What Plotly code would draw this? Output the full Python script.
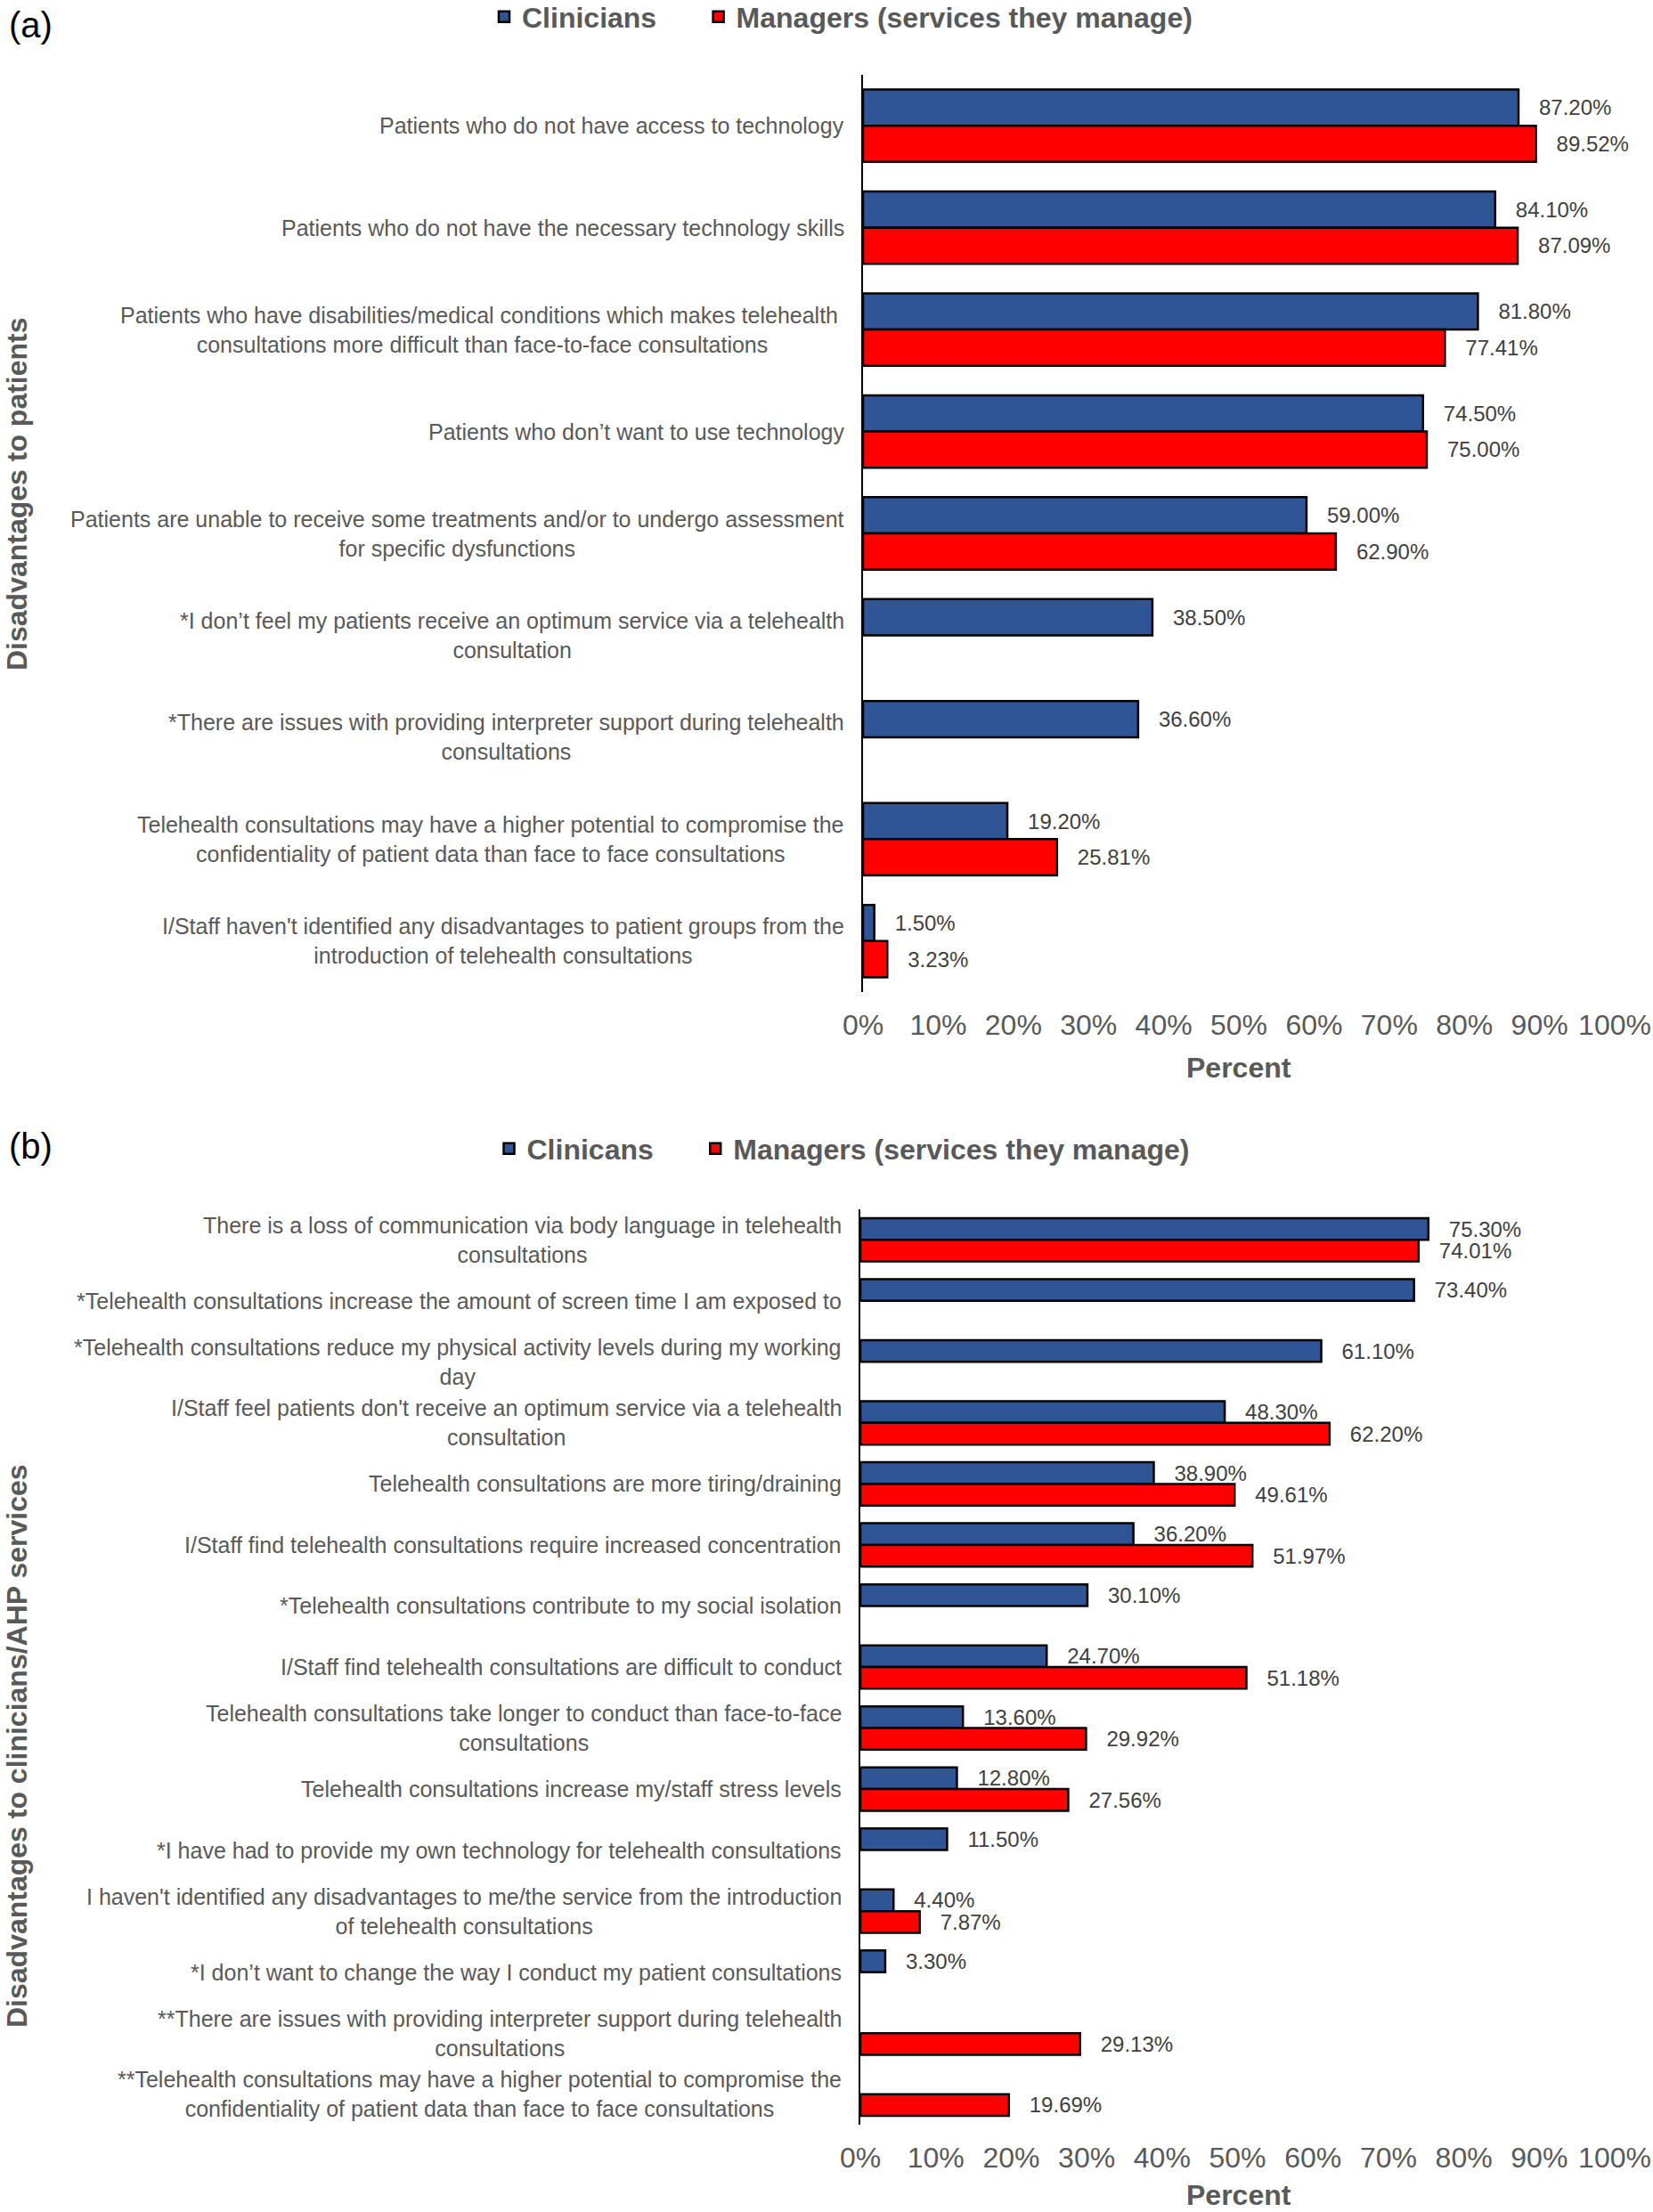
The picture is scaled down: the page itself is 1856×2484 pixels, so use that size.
import plotly.graph_objects as go

# ---------------- data ----------------
cats_a = [
    "Patients who do not have access to technology",
    "Patients who do not have the necessary technology skills",
    "Patients who have disabilities/medical conditions which makes telehealth <br>consultations more difficult than face-to-face consultations",
    "Patients who don\u2019t want to use technology",
    "Patients are unable to receive some treatments and/or to undergo assessment<br>for specific dysfunctions",
    "*I don\u2019t feel my patients receive an optimum service via a telehealth<br>consultation",
    "*There are issues with providing interpreter support during telehealth<br>consultations",
    "Telehealth consultations may have a higher potential to compromise the<br>confidentiality of patient data than face to face consultations",
    "I/Staff haven't identified any disadvantages to patient groups from the<br>introduction of telehealth consultations",
]
clin_a = [87.20, 84.10, 81.80, 74.50, 59.00, 38.50, 36.60, 19.20, 1.50]
man_a = [89.52, 87.09, 77.41, 75.00, 62.90, None, None, 25.81, 3.23]

cats_b = [
    "There is a loss of communication via body language in telehealth<br>consultations",
    "*Telehealth consultations increase the amount of screen time I am exposed to",
    "*Telehealth consultations reduce my physical activity levels during my working<br>day",
    "I/Staff feel patients don't receive an optimum service via a telehealth<br>consultation",
    "Telehealth consultations are more tiring/draining",
    "I/Staff find telehealth consultations require increased concentration",
    "*Telehealth consultations contribute to my social isolation",
    "I/Staff find telehealth consultations are difficult to conduct",
    "Telehealth consultations take longer to conduct than face-to-face<br>consultations",
    "Telehealth consultations increase my/staff stress levels",
    "*I have had to provide my own technology for telehealth consultations",
    "I haven't identified any disadvantages to me/the service from the introduction<br>of telehealth consultations",
    "*I don\u2019t want to change the way I conduct my patient consultations",
    "**There are issues with providing interpreter support during telehealth<br>consultations",
    "**Telehealth consultations may have a higher potential to compromise the<br>confidentiality of patient data than face to face consultations",
]
clin_b = [75.30, 73.40, 61.10, 48.30, 38.90, 36.20, 30.10, 24.70, 13.60, 12.80, 11.50, 4.40, 3.30, None, None]
man_b = [74.01, None, None, 62.20, 49.61, 51.97, None, 51.18, 29.92, 27.56, None, 7.87, None, 29.13, 19.69]

tick_vals = [0, 10, 20, 30, 40, 50, 60, 70, 80, 90, 100]
tick_text = ["0%", "10%", "20%", "30%", "40%", "50%", "60%", "70%", "80%", "90%", "100%"]

series_names_a = ["Clinicians", "Managers (services they manage)"]
series_names_b = ["Clinicans", "Managers (services they manage)"]

# ---------------- style ----------------
W, H = 1856, 2484
FONT = "Liberation Sans, Arial, Helvetica, sans-serif"
BLUE = "#2F5597"
RED = "#FF0000"
GREY = "#595959"
DARK = "#404040"
LEG_PAD = "\u00a0" * 5   # extra gap between legend entries


def py(p):
    return 1 - p / H


def px(p):
    return p / W


fig = go.Figure()


def add_bar(x, y, name, color, xa, ya, leg):
    fig.add_trace(go.Bar(
        x=x, y=y, name=name, orientation="h",
        marker=dict(color=color, line=dict(color="black", width=2.5)),
        texttemplate="\u00a0\u00a0\u00a0%{x:.2f}%",
        textposition="outside", constraintext="none", cliponaxis=False,
        textfont=dict(family=FONT, size=24, color=DARK),
        xaxis=xa, yaxis=ya, legend=leg, hoverinfo="skip",
    ))


add_bar(clin_a, cats_a, series_names_a[0] + LEG_PAD, BLUE, "x", "y", "legend")
add_bar(man_a, cats_a, series_names_a[1], RED, "x", "y", "legend")
add_bar(clin_b, cats_b, series_names_b[0] + LEG_PAD, BLUE, "x2", "y2", "legend2")
add_bar(man_b, cats_b, series_names_b[1], RED, "x2", "y2", "legend2")

xcommon = dict(range=[0, 100], tickmode="array", tickvals=tick_vals, ticktext=tick_text,
               showgrid=False, zeroline=False, showline=False, ticks="",
               tickfont=dict(family=FONT, size=32, color=GREY),
               ticklabelstandoff=15, fixedrange=True, automargin=False)
ycommon = dict(autorange="reversed", showticklabels=False, showline=True,
               linecolor="black", linewidth=2, ticks="", showgrid=False,
               zeroline=False, fixedrange=True, automargin=False)

legcommon = dict(orientation="h", xanchor="center", yanchor="middle",
                 traceorder="normal", bgcolor="rgba(0,0,0,0)",
                 font=dict(family=FONT, size=32, color=GREY, weight="bold"))

annotations = []
for cats, xr, yr in [(cats_a, "x", "y"), (cats_b, "x2", "y2")]:
    for c in cats:
        annotations.append(dict(
            text=c, x=0, y=c, xref=xr, yref=yr, xanchor="right",
            yanchor="middle", align="center", xshift=-19, showarrow=False,
            font=dict(family=FONT, size=25, color=GREY)))

annotations += [
    dict(text="(a)", x=px(8), y=py(28), xref="paper", yref="paper",
         xanchor="left", yanchor="middle", showarrow=False,
         font=dict(family=FONT, size=40, color="black")),
    dict(text="(b)", x=px(8), y=py(1287), xref="paper", yref="paper",
         xanchor="left", yanchor="middle", showarrow=False,
         font=dict(family=FONT, size=40, color="black")),
    dict(text="Disadvantages to patients", x=px(19), y=py(555),
         xref="paper", yref="paper", textangle=-90, showarrow=False,
         xanchor="center", yanchor="middle",
         font=dict(family=FONT, size=32, color=GREY, weight="bold")),
    dict(text="Disadvantages to clinicians/AHP services", x=px(19), y=py(1961),
         xref="paper", yref="paper", textangle=-90, showarrow=False,
         xanchor="center", yanchor="middle",
         font=dict(family=FONT, size=32, color=GREY, weight="bold")),
    dict(text="Percent", x=px(1391), y=py(1199), xref="paper", yref="paper",
         showarrow=False, xanchor="center", yanchor="middle",
         font=dict(family=FONT, size=32, color=GREY, weight="bold")),
    dict(text="Percent", x=px(1391), y=py(2465), xref="paper", yref="paper",
         showarrow=False, xanchor="center", yanchor="middle",
         font=dict(family=FONT, size=32, color=GREY, weight="bold")),
]

fig.update_layout(
    width=W, height=H, autosize=False,
    margin=dict(l=0, r=0, t=0, b=0, pad=0, autoexpand=False),
    paper_bgcolor="white", plot_bgcolor="white",
    barmode="group", bargap=0.29, bargroupgap=0,
    font=dict(family=FONT, color=GREY),
    xaxis=dict(domain=[px(969), px(1813)], anchor="y", **xcommon),
    yaxis=dict(domain=[py(1114), py(84)], anchor="x", **ycommon),
    xaxis2=dict(domain=[px(966), px(1813)], anchor="y2", **xcommon),
    yaxis2=dict(domain=[py(2386), py(1358)], anchor="x2", **ycommon),
    legend=dict(x=px(945), y=py(19), **legcommon),
    legend2=dict(x=px(946), y=py(1290), **legcommon),
    annotations=annotations,
    showlegend=True,
)

fig.write_html("out.html", config={"displayModeBar": False},
               post_script="document.body.style.margin='0';")
